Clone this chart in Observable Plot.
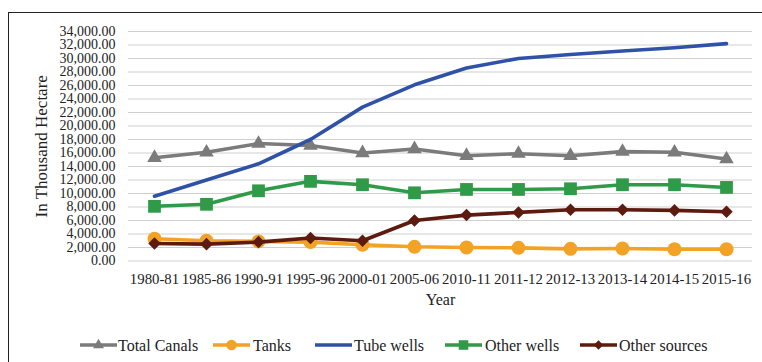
<!DOCTYPE html>
<html>
<head>
<meta charset="utf-8">
<script src="https://cdn.jsdelivr.net/npm/d3@7"></script>
<script src="https://cdn.jsdelivr.net/npm/@observablehq/plot@0.6"></script>
<style>
  html, body { margin: 0; padding: 0; background: #fff; }
  #wrap { position: relative; width: 762px; height: 362px; overflow: hidden; background: #fff; }
  #frame { position: absolute; left: 8px; top: 12px; width: 800px; height: 400px;
           border-top: 1.5px solid #222; border-left: 1.5px solid #222; pointer-events: none; }
  svg { display: block; font-family: "Liberation Serif", "Times New Roman", serif; }
</style>
</head>
<body>
<div id="wrap"><div id="frame"></div></div>
<script>
const years = ["1980-81","1985-86","1990-91","1995-96","2000-01","2005-06","2010-11","2011-12","2012-13","2013-14","2014-15","2015-16"];
const totalCanals  = [15300, 16100, 17400, 17100, 16000, 16600, 15600, 15900, 15600, 16200, 16100, 15100];
const tanks        = [3300, 3000, 2900, 2800, 2400, 2100, 2000, 1950, 1800, 1850, 1750, 1750];
const tubeWells    = [9600, 12000, 14400, 18000, 22800, 26100, 28600, 30000, 30600, 31100, 31600, 32200];
const otherWells   = [8100, 8400, 10400, 11800, 11300, 10100, 10600, 10600, 10700, 11300, 11300, 10900];
const otherSources = [2600, 2500, 2800, 3400, 3000, 6000, 6800, 7200, 7600, 7600, 7500, 7300];
const seriesNames  = ["Total Canals", "Tanks", "Tube wells", "Other wells", "Other sources"];
const yTicks = d3.range(0, 34001, 2000);

const colors = {
  "Total Canals": "#7b7b7b",
  "Tanks": "#f2a224",
  "Tube wells": "#2f51a6",
  "Other wells": "#2f9a48",
  "Other sources": "#5d1b10"
};
const squareDiamond = {
  draw(ctx, size) {
    const h = Math.sqrt(size / 2);
    ctx.moveTo(0, -h); ctx.lineTo(h, 0); ctx.lineTo(0, h); ctx.lineTo(-h, 0); ctx.closePath();
  }
};
const symbols = {
  "Total Canals": {symbol: "triangle", shape: d3.symbolTriangle, r: 5.4},
  "Tanks": {symbol: "circle", shape: d3.symbolCircle, r: 7},
  "Tube wells": null,
  "Other wells": {symbol: "square", shape: d3.symbolSquare, r: 7.2},
  "Other sources": {symbol: squareDiamond, shape: squareDiamond, r: 5}
};
const values = [totalCanals, tanks, tubeWells, otherWells, otherSources];
const data = [];
seriesNames.forEach((s, i) => years.forEach((y, j) => data.push({series: s, year: y, value: values[i][j]})));

const marks = [
  Plot.gridY(yTicks, {stroke: "#cfcfcf", strokeOpacity: 1, strokeWidth: 1.2}),
  Plot.axisY(yTicks, {tickSize: 0, tickPadding: 13, tickFormat: d3.format(",.2f"), fontSize: 14, label: null, fill: "#222"}),
  Plot.axisX({tickSize: 0, tickPadding: 12, fontSize: 14.8, label: null, fill: "#222"}),
  Plot.text(["Year"], {frameAnchor: "bottom", dy: 44, fontSize: 16, fill: "#222"}),
  Plot.text(["In Thousand Hectare"], {frameAnchor: "left", textAnchor: "middle", dx: -87, rotate: -90, fontSize: 17, fill: "#222"})
];
seriesNames.forEach(s => {
  const d = data.filter(r => r.series === s);
  marks.push(Plot.line(d, {x: "year", y: "value", stroke: colors[s], strokeWidth: 3.6, curve: "linear"}));
  const sym = symbols[s];
  if (sym) marks.push(Plot.dot(d, {x: "year", y: "value", symbol: () => sym.symbol, r: sym.r, fill: colors[s], stroke: "none"}));
});

const chart = Plot.plot({
  width: 762, height: 320,
  marginLeft: 128, marginRight: 10, marginTop: 31, marginBottom: 59.5,
  x: {type: "point", domain: years, padding: 0.5},
  y: {domain: [0, 34000]},
  symbol: {type: "identity"},
  style: {fontFamily: "'Liberation Serif', 'Times New Roman', serif", background: "transparent", overflow: "visible"},
  marks
});
document.getElementById("wrap").appendChild(chart);

// legend below
const legendItems = [
  {name: "Total Canals", x0: 80, tx: 118},
  {name: "Tanks", x0: 213, tx: 253},
  {name: "Tube wells", x0: 315, tx: 354},
  {name: "Other wells", x0: 445, tx: 485},
  {name: "Other sources", x0: 580, tx: 619}
];
const leg = d3.create("svg").attr("width", 762).attr("height", 42)
  .style("font-family", "'Liberation Serif', 'Times New Roman', serif");
const cy = 25;
legendItems.forEach(it => {
  const g = leg.append("g");
  g.append("line").attr("x1", it.x0).attr("x2", it.x0 + 37).attr("y1", cy).attr("y2", cy)
    .attr("stroke", colors[it.name]).attr("stroke-width", 3.6);
  const sym = symbols[it.name];
  if (sym) {
    g.append("path").attr("d", d3.symbol(sym.shape, Math.PI * (sym.r * 0.75) ** 2)())
      .attr("transform", `translate(${it.x0 + 18.5},${cy})`).attr("fill", colors[it.name]);
  }
  g.append("text").attr("x", it.tx).attr("y", cy).attr("dy", "0.35em")
    .attr("font-size", 16).attr("fill", "#222").text(it.name);
});
document.getElementById("wrap").appendChild(leg.node());
</script>
</body>
</html>
